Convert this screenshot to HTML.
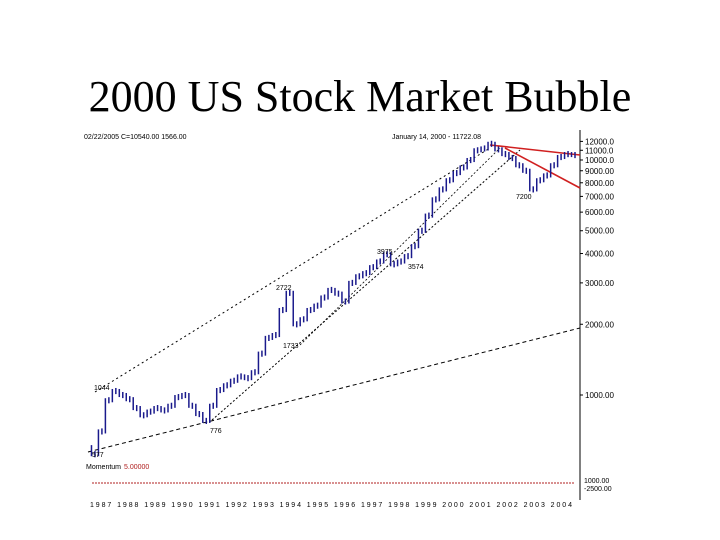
<!DOCTYPE html>
<html><head><meta charset="utf-8">
<style>
body{margin:0;background:#fff;}
#wrap{position:relative;width:720px;height:540px;overflow:hidden;background:#fff;}
h1{position:absolute;left:0;top:71px;width:720px;margin:0;text-align:center;font-family:"Liberation Serif",serif;font-weight:normal;font-size:44px;color:#000;}
svg{position:absolute;left:0;top:0;}
text{font-family:"Liberation Sans",sans-serif;}
</style></head>
<body>
<div id="wrap">
<h1>2000 US Stock Market Bubble</h1>
<svg id="chart" width="720" height="540"></svg>
</div>
<script>
const tickValues=[12000,11000,10000,9000,8000,7000,6000,5000,4000,3000,2000,1000];
const tickLabels=["12000.0","11000.0","10000.0","9000.00","8000.00","7000.00","6000.00","5000.00","4000.00","3000.00","2000.00","1000.00"];
const prices=[600,560,700,950,1040,1000,960,880,820,850,880,860,900,980,1000,900,830,776,900,1050,1100,1150,1200,1180,1250,1500,1750,1800,2300,2722,2000,2100,2300,2400,2600,2800,2700,2500,3000,3200,3300,3500,3700,3975,3600,3700,3900,4300,5000,5800,6800,7500,8200,8800,9300,10000,11000,11200,11722,11100,10600,10200,9500,9000,7500,8200,8600,9500,10300,10600,10500];
const svg=document.getElementById('chart');
const NS='http://www.w3.org/2000/svg';
const x0=88,x1=575,axisX=580;
const yScale=v=>395-235*Math.log10(v/1000);
const xScale=i=>x0+(x1-x0)*i/(prices.length-1);
function mk(t,a){const e=document.createElementNS(NS,t);for(const k in a)e.setAttribute(k,a[k]);svg.appendChild(e);return e;}
let ax=mk('line',{x1:axisX,y1:130,x2:axisX,y2:500,stroke:'#000','stroke-width':1});


tickValues.forEach((v,i)=>{
 const y=yScale(v);
 let t=mk('line',{x1:axisX,y1:y,x2:axisX+3,y2:y,stroke:'#000'});
 
 
 let tx=mk('text',{x:axisX+5,y:y+3,'font-size':8,fill:'#000'});
 tx.textContent=tickLabels[i];
 
 
});
const lines=[[88,452,580,328,'4,3','#000',1],[95,392,490,148,'2,3','#000',1],[212,420,520,150,'2,2','#000',1],[300,345,500,148,'2,2','#000',0.8],[490,145,580,155,'','#d02020',1.6],[505,148,580,188,'','#d02020',1.6]];
lines.forEach(l=>{let e=mk('line',{x1:l[0],y1:l[1],x2:l[2],y2:l[3],stroke:l[5],'stroke-width':l[6],'stroke-dasharray':l[4]});
 
 });
prices.forEach((v,i)=>{
 if(i===0)return;
 const p=prices[i-1];
 const xa=xScale(i-1),xb=xScale(i);
 const xm=(xa+xb)/2;
 let b=mk('line',{x1:xm,y1:yScale(Math.max(v,p)*1.02),x2:xm,y2:yScale(Math.min(v,p)*0.98),stroke:'#1a1a8c','stroke-width':1.5});
 
 
 let b2=mk('line',{x1:xb,y1:yScale(v*1.03),x2:xb,y2:yScale(v*0.97),stroke:'#1a1a8c','stroke-width':1.5});
 
 
});
for(let x=92;x<575;x+=3){
 let m=mk('line',{x1:x,y1:483,x2:x+2,y2:483,stroke:'#b02020','stroke-width':1});
 
 
}
const labels=[["02/22/2005  C=10540.00  1566.00",84,139],["January 14, 2000 - 11722.08",392,139],["3975",377,254],["3574",408,269],["2722",276,290],["1733",283,348],["1044",94,390],["776",210,433],["577",92,457],["7200",516,199],["Momentum",86,469],["1000.00",584,483],["-2500.00",584,491]];
labels.forEach(l=>{let t=mk('text',{x:l[1],y:l[2],'font-size':7,fill:'#000'});t.textContent=l[0];
 
 });
let mv=mk('text',{x:124,y:469,'font-size':7,fill:'#b02020'});mv.textContent='5.00000';


let dl=mk('text',{x:90,y:507,'font-size':7,fill:'#000',textLength:482});
dl.textContent='1987 1988 1989 1990 1991 1992 1993 1994 1995 1996 1997 1998 1999 2000 2001 2002 2003 2004';


</script>
</body></html>
